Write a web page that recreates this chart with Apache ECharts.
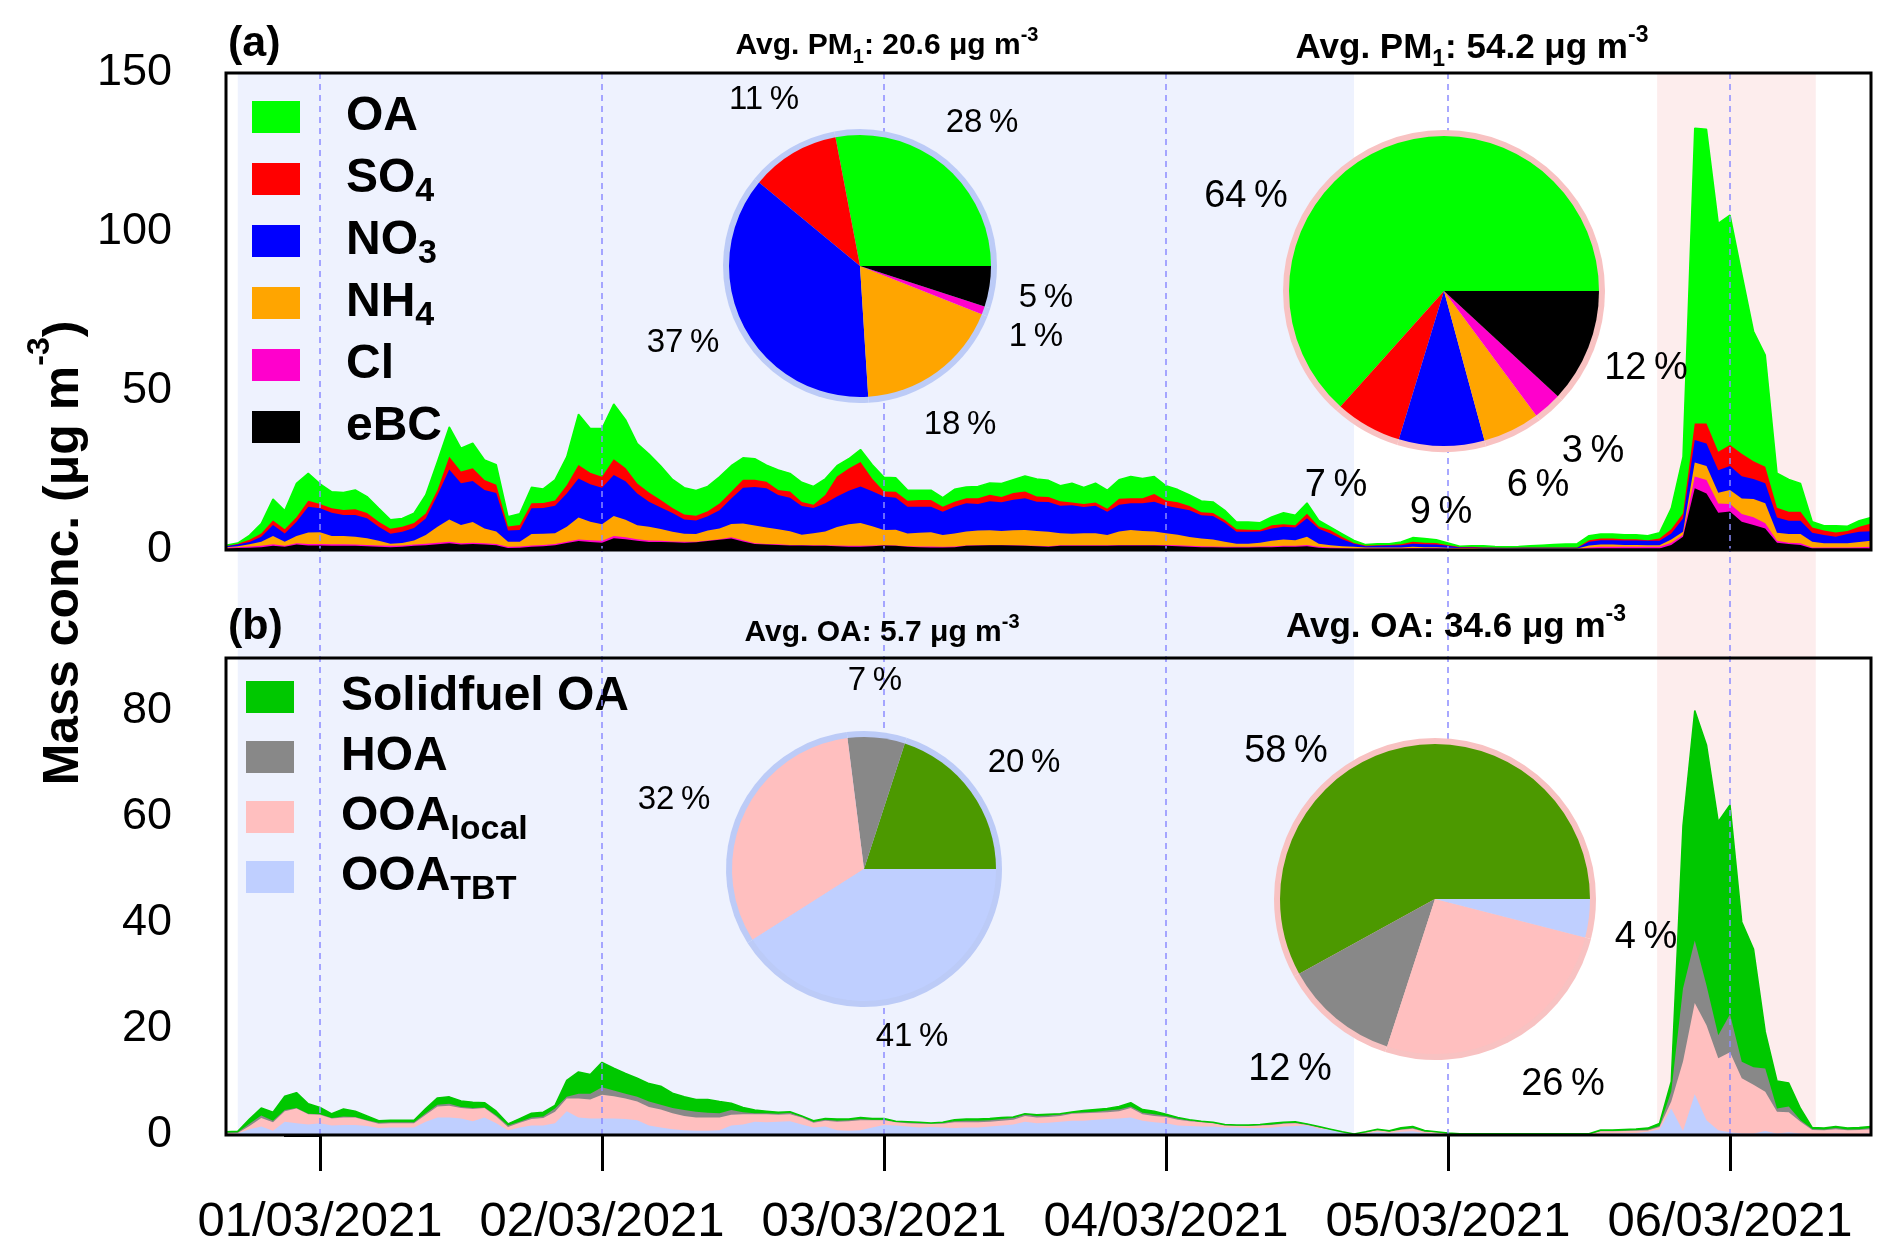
<!DOCTYPE html>
<html><head><meta charset="utf-8">
<script src="https://cdn.jsdelivr.net/npm/echarts@6/dist/echarts.min.js"></script>
<style>html,body{margin:0;padding:0;background:#fff}#c{width:1892px;height:1255px}</style>
</head><body><div id="c"></div><script>
const FF = '"Liberation Sans", Arial, sans-serif';

// time axis: hours relative to 01/03/2021 00:00, hourly from 28/02 16:00 to 06/03 12:00
const hourStart = -8, hourEnd = 132;
const hours = [];
for (let h = hourStart; h <= hourEnd; h++) hours.push(h);

const dayTicks = [0, 24, 48, 72, 96, 120];
const dayLabels = ['01/03/2021', '02/03/2021', '03/03/2021', '04/03/2021', '05/03/2021', '06/03/2021'];
const yTicksA = [0, 50, 100, 150];
const yTicksB = [0, 20, 40, 60, 80];

// shaded periods (hours): clean period and event period
const cleanPeriod = [-7, 88];
const eventPeriod = [113.8, 127.3];

// ---- panel (a) PM1 species (ug m-3) ----
const eBC = [0.4,0.6,0.7,0.9,1.3,1.0,1.7,1.4,
1.4,1.3,1.3,1.3,1.2,1.0,0.9,1.0,1.3,1.5,
1.8,2.1,1.7,1.9,1.7,1.5,0.6,0.7,1.0,1.2,
1.5,2.2,2.8,2.5,2.3,3.7,3.4,2.9,2.5,2.5,
2.4,2.3,2.4,2.8,3.2,3.6,2.7,1.9,1.7,1.6,
1.4,1.4,1.3,1.3,1.2,1.0,1.0,1.2,1.4,1.3,
1.0,0.9,0.8,0.8,0.9,1.3,1.4,1.5,1.5,1.4,
1.3,1.2,1.0,1.3,1.3,1.3,1.3,1.3,1.4,1.4,
1.4,1.4,1.3,1.2,1.0,0.9,0.9,0.8,0.8,0.8,
0.9,0.9,1.0,1.0,1.2,0.7,0.5,0.4,0.3,0.3,
0.3,0.3,0.3,0.4,0.4,0.4,0.3,0.3,0.3,0.2,
0.2,0.2,0.2,0.2,0.2,0.2,0.2,0.2,0.4,0.5,
0.5,0.5,0.5,0.5,0.5,1.6,4.2,19.4,17.8,11.7,
12.1,8.9,7.9,6.8,2.3,1.9,1.6,0.5,0.5,0.5,
0.5,0.5,0.5];
const Cl = [0.3,0.3,0.4,0.4,0.5,0.3,0.4,0.5,
0.5,0.5,0.5,0.4,0.4,0.4,0.4,0.4,0.4,0.5,
0.5,0.5,0.4,0.4,0.4,0.4,0.4,0.4,0.4,0.4,
0.4,0.4,0.5,0.6,0.6,0.7,0.6,0.5,0.5,0.4,
0.3,0.3,0.2,0.2,0.2,0.4,0.4,0.2,0.2,0.2,
0.2,0.2,0.2,0.2,0.2,0.3,0.3,0.2,0.1,0.1,
0.2,0.2,0.3,0.2,0.2,0.1,0.1,0.1,0.1,0.1,
0.1,0.1,0.2,0.2,0.2,0.2,0.2,0.2,0.2,0.2,
0.2,0.2,0.3,0.3,0.3,0.3,0.2,0.2,0.2,0.2,
0.2,0.3,0.3,0.3,0.4,0.3,0.3,0.2,0.2,0.2,
0.2,0.2,0.2,0.2,0.2,0.2,0.2,0.1,0.1,0.1,
0.1,0.1,0.1,0.1,0.1,0.1,0.1,0.1,0.4,0.5,
0.5,0.5,0.5,0.5,0.5,0.7,0.5,3.7,4.2,2.9,
2.4,2.4,2.4,1.6,0.6,0.4,0.5,0.3,0.3,0.3,
0.3,0.4,0.5];
const NH4 = [0.2,0.3,0.7,1.3,2.6,1.3,2.3,3.6,
3.7,2.6,2.6,2.5,2.1,1.5,0.7,0.8,1.3,2.7,
5.0,7.0,5.8,6.5,4.7,3.9,1.6,1.5,3.6,3.5,
3.4,4.7,6.9,5.8,5.2,6.3,5.5,4.4,4.3,3.7,
3.0,2.5,2.4,3.1,3.4,4.2,5.2,5.6,5.2,4.7,
4.3,3.2,3.8,4.3,5.8,6.8,7.2,6.1,4.8,5.0,
4.0,4.3,4.5,3.7,4.1,4.4,4.6,4.6,4.4,4.7,
4.9,4.7,4.5,3.8,3.6,3.8,3.8,3.2,4.2,4.7,
4.4,4.2,3.7,3.3,2.8,2.4,2.2,1.6,1.0,1.0,
1.2,1.7,2.0,1.8,2.6,1.0,0.7,0.6,0.5,0.3,
0.3,0.3,0.3,0.4,0.3,0.3,0.2,0.2,0.2,0.2,
0.2,0.2,0.2,0.2,0.2,0.2,0.2,0.2,0.6,0.7,
0.7,0.6,0.6,0.5,0.5,1.0,1.0,4.4,4.4,3.4,
4.4,4.9,5.7,6.3,2.5,2.7,2.9,1.8,1.3,1.3,
1.3,1.6,1.9];
const NO3 = [0.3,0.5,0.7,1.6,3.5,2.6,4.5,8.1,
7.5,7.3,6.6,6.8,6.3,4.4,3.1,3.5,3.9,5.2,
10.0,15.7,13.1,12.9,12.1,12.1,3.5,3.7,8.1,8.1,
8.6,10.5,12.3,11.8,11.5,12.9,12.1,10.0,7.9,6.8,
5.9,4.5,4.3,4.5,5.7,8.0,11.3,12.1,12.3,10.8,
10.5,9.0,7.9,8.9,9.6,10.5,11.5,11.0,10.5,10.0,
8.4,8.2,8.0,7.3,8.4,8.9,8.4,9.1,9.0,9.6,
10.0,9.2,9.4,8.6,9.0,8.2,8.6,7.3,8.4,8.4,
8.7,9.4,8.6,8.4,8.4,7.3,7.4,6.0,3.7,3.7,
3.5,3.9,4.0,4.0,5.8,4.7,3.7,2.2,1.0,0.4,
0.5,0.6,0.7,1.0,0.9,0.8,0.6,0.2,0.2,0.2,
0.2,0.2,0.2,0.2,0.2,0.2,0.2,0.2,1.2,1.4,
1.4,1.4,1.4,1.4,1.4,1.9,4.2,7.1,7.1,7.1,
7.5,7.0,6.3,6.3,4.8,4.2,4.2,2.8,2.6,2.1,
2.9,3.2,3.0];
const SO4 = [0.2,0.3,0.7,1.0,1.4,1.3,1.4,1.9,
1.4,1.4,1.6,1.8,1.6,1.6,1.6,1.6,1.6,1.6,
1.6,4.0,3.7,4.0,3.1,2.6,1.3,1.6,1.6,1.6,
1.7,2.6,4.2,3.6,3.4,4.9,4.2,3.1,2.9,2.3,
1.6,1.6,1.5,1.6,2.1,2.1,2.5,2.3,2.1,1.6,
2.0,1.3,1.0,2.6,6.3,7.0,7.7,3.9,1.6,1.9,
1.9,2.1,2.1,1.6,1.6,1.6,1.8,2.1,1.7,2.1,
2.1,1.6,1.6,1.4,0.8,1.0,1.0,1.0,1.9,1.6,
1.6,2.4,1.7,1.8,1.3,1.0,0.9,0.8,0.8,0.7,
0.5,1.0,0.8,0.7,1.4,0.7,1.0,0.7,0.2,0.2,
0.2,0.2,0.3,0.6,0.5,0.5,0.2,0.2,0.2,0.1,
0.1,0.1,0.1,0.1,0.1,0.1,0.1,0.1,0.5,0.5,
0.5,0.4,0.4,0.2,0.7,1.3,1.6,5.2,6.3,5.8,
6.6,7.1,5.6,5.2,3.1,2.8,2.8,1.7,1.4,1.3,
1.0,1.6,2.4];
const OA = [0.1,0.2,1.4,3.1,6.7,5.9,10.7,8.6,
6.3,5.2,5.5,6.1,5.2,4.2,2.8,2.6,3.1,5.8,
8.9,9.4,7.3,7.9,6.3,6.3,3.1,3.5,5.0,4.4,
6.5,8.9,16.0,13.9,15.2,17.4,15.2,12.6,12.1,10.7,
9.0,8.4,7.9,7.8,8.4,8.2,6.9,6.6,5.2,6.3,
5.7,6.2,5.8,5.1,3.4,3.1,3.9,4.4,4.5,4.4,
3.4,3.1,3.1,2.9,3.9,3.5,3.7,3.7,4.2,4.2,
4.9,5.5,5.2,4.9,6.1,5.2,6.1,5.8,6.0,6.8,
6.2,5.5,4.6,4.0,3.5,3.5,3.5,3.1,2.3,2.4,
2.3,2.6,3.6,3.1,3.4,1.9,1.0,1.0,0.8,0.3,
0.5,0.4,0.7,1.3,1.3,1.0,0.7,0.2,0.3,0.5,
0.3,0.2,0.3,0.5,0.7,0.9,1.1,1.2,1.4,1.4,
1.4,1.4,1.4,1.4,1.8,6.6,17.8,92.8,92.5,71.8,
72.3,56.6,40.9,35.1,10.9,10.2,8.9,1.8,1.5,2.1,
1.5,1.9,1.9];

// ---- panel (b) OA factors (ug m-3) ----
const OOA_TBT = [0.1,0.3,1.1,1.6,0.8,2.5,2.2,2.0,
2.2,1.8,1.9,1.9,1.7,1.3,1.4,1.4,1.4,2.5,
3.3,3.3,3.1,2.6,3.3,2.2,0.9,1.4,1.8,1.8,
2.2,4.5,3.3,3.1,3.1,3.1,3.0,2.8,1.8,1.4,
1.1,0.9,0.8,0.8,0.9,1.8,2.0,2.5,2.4,2.5,
2.6,2.0,1.4,1.6,0.9,0.8,0.9,1.4,1.9,1.8,
1.6,1.4,1.5,1.4,1.3,1.4,1.4,1.6,1.8,2.0,
2.5,2.2,2.3,2.5,2.7,2.7,2.9,3.0,3.1,3.3,
2.7,2.4,2.2,1.8,1.7,1.6,1.6,1.4,1.4,1.3,
1.3,1.4,1.6,1.7,1.8,1.2,1.0,0.5,0.15,0.3,
0.6,0.4,0.6,0.7,0.4,0.3,0.15,0.05,0.05,0.05,
0.05,0.05,0.05,0.05,0.05,0.05,0.05,0.05,0.05,0.3,
0.3,0.35,0.4,0.6,1.1,5.0,0.75,7.7,2.8,0.9,
0.5,0.3,0.3,0.75,0.3,0.5,0.3,0.2,0.2,0.3,
0.2,0.2,0.3];
const OOA_local = [0.2,0.1,0.6,1.6,1.6,2.0,2.8,1.9,
1.6,1.3,1.4,1.4,1.0,0.8,0.8,0.8,0.8,1.3,
2.1,2.2,2.0,2.3,1.8,1.3,0.6,0.9,1.2,1.4,
2.2,2.4,3.6,3.6,4.5,4.2,3.9,3.5,3.5,3.4,
3.0,2.7,2.5,2.5,2.4,2.0,1.9,1.4,1.5,1.3,
1.3,1.3,0.9,1.1,1.6,1.8,1.9,1.4,0.9,0.6,
0.6,0.7,0.6,0.7,1.1,1.0,1.0,0.9,0.9,0.9,
1.1,1.1,1.1,1.1,1.3,1.4,1.3,1.3,1.4,1.8,
1.2,1.2,1.2,1.1,0.9,0.8,0.6,0.4,0.35,0.4,
0.5,0.5,0.5,0.5,0.1,0.2,0.05,0.05,0.03,0.2,
0.3,0.2,0.4,0.5,0.2,0.2,0.1,0.1,0.1,0.1,
0.1,0.1,0.1,0.1,0.1,0.1,0.1,0.1,0.1,0.4,
0.4,0.4,0.4,0.25,0.4,1.3,13.1,17.2,17.9,13.6,
15.1,10.4,9.2,7.4,4.1,3.8,2.2,0.75,0.7,0.8,
0.7,0.75,0.8];
const HOA = [0.2,0.1,0.4,0.5,0.3,0.2,0.1,0.1,
0.1,0.1,0.2,0.1,0.1,0.2,0.2,0.2,0.2,0.3,
0.3,0.4,0.2,0.2,0.1,0.2,0.3,0.2,0.3,0.3,
0.6,0.3,0.9,1.1,1.4,1.1,0.9,0.9,1.0,0.9,
1.0,1.1,1.1,0.9,0.8,0.9,0.4,0.2,0.2,0.2,
0.3,0.2,0.2,0.2,0.2,0.2,0.2,0.1,0.1,0.1,
0.2,0.2,0.1,0.2,0.2,0.3,0.3,0.3,0.3,0.3,
0.3,0.3,0.3,0.3,0.15,0.2,0.2,0.3,0.3,0.3,
0.3,0.3,0.2,0.2,0.15,0.1,0.1,0.1,0.1,0.1,
0.1,0.1,0.1,0.1,0.1,0.1,0.02,0.02,0.01,0.02,
0.05,0.02,0.05,0.1,0.05,0.02,0.02,0.02,0.02,0.02,
0.02,0.02,0.02,0.02,0.02,0.02,0.02,0.02,0.02,0.05,
0.05,0.1,0.1,0.2,0.2,1.9,13.8,11.8,7.5,4.3,
7.2,3.1,3.3,4.4,0.6,1.1,0.3,0.2,0.15,0.2,
0.15,0.15,0.2];
const SFOA = [0.1,0.2,0.9,1.4,1.6,2.6,2.9,1.9,
1.3,0.8,1.4,1.1,0.8,0.4,0.4,0.4,0.4,0.9,
1.3,1.3,1.1,1.1,0.9,0.8,0.3,0.6,0.8,0.8,
0.6,3.1,4.1,3.6,4.7,4.2,3.8,3.5,3.4,3.5,
2.8,2.5,2.3,2.5,2.2,1.3,0.9,0.6,0.4,0.3,
0.2,0.1,0.2,0.2,0.3,0.2,0.3,0.2,0.2,0.1,
0.1,0.1,0.05,0.1,0.3,0.3,0.3,0.3,0.3,0.2,
0.1,0.2,0.2,0.1,0.2,0.3,0.4,0.4,0.6,0.7,
0.6,0.6,0.3,0.2,0.15,0.1,0.1,0.1,0.05,0.1,
0.1,0.2,0.2,0.2,0.1,0.1,0.03,0.03,0.02,0.1,
0.15,0.2,0.3,0.3,0.2,0.1,0.1,0.05,0.05,0.05,
0.05,0.05,0.05,0.05,0.05,0.05,0.05,0.05,0.05,0.2,
0.2,0.2,0.25,0.25,0.5,1.9,30.8,43.4,45.4,40.3,
39.5,26.4,22.3,6.9,5.2,4.4,2.2,0.25,0.25,0.3,
0.25,0.3,0.3];

// ---- pie compositions (%) ----
const pmNames = ['OA', 'SO4', 'NO3', 'NH4', 'Cl', 'eBC'];
const pmPieClean = [28, 11, 37, 18, 1, 5];
const pmPieEvent = [64, 7, 9, 6, 3, 12];
const oaNames = ['Solidfuel OA', 'HOA', 'OOAlocal', 'OOATBT'];
const oaPieClean = [20, 7, 32, 41];
const oaPieEvent = [58, 12, 26, 4];
const avgPM1 = [20.6, 54.2];
const avgOA = [5.7, 34.6];

// ---- styling (kept apart from data) ----
const pmColors = ['#00ff00', '#ff0000', '#0000ff', '#ffa500', '#ff00cc', '#000000'];
const oaAreaColors = ['#00c800', '#888888', '#ffbfbf', '#bfcfff'];
const oaPieColors = ['#4c9900', '#888888', '#ffbfbf', '#bfcfff'];
const ringBlue = '#bccbf7', ringPink = '#f8c2c2';
const labelPos = {
  pmClean: [[982,123],[764,100],[683,343],[960,425],[1036,337],[1046,298]],
  pmEvent: [[1246,197],[1336,486],[1441,513],[1538,486],[1593,452],[1646,369]],
  oaClean: [[1024,763],[875,681],[674,800],[912,1037]],
  oaEvent: [[1286,752],[1290,1070],[1563,1085],[1646,938]]
};

const subMap = {SO4:['SO','4'], NO3:['NO','3'], NH4:['NH','4'], OOAlocal:['OOA','local'], OOATBT:['OOA','TBT']};
function legendFmt(name) {
  const s = subMap[name];
  return s ? '{m|' + s[0] + '}{s|' + s[1] + '}' : '{m|' + name + '}';
}

// cumulative layers (bottom -> top) so each layer is an area filled down to zero,
// drawn top-most first so the lower layers paint over it
function cumulate(layers) {
  const out = [];
  let run = hours.map(() => 0);
  layers.forEach(arr => { run = run.map((v, i) => Math.round((v + arr[i]) * 100) / 100); out.push(run); });
  return out;
}

function area(name, data, color, gi, lineW, z) {
  return {
    type: 'line', name: name, xAxisIndex: gi, yAxisIndex: gi,
    data: hours.map((h, i) => [h, data[i]]),
    symbol: 'none', showSymbol: false, color: color, silent: true, z: z,
    lineStyle: {width: lineW, color: color},
    areaStyle: {color: color, opacity: 1, origin: 'start'},
    emphasis: {disabled: true}
  };
}

function stackSeries(names, layers, colors, gi) {
  const cum = cumulate(layers);
  const out = [];
  for (let k = layers.length - 1; k >= 0; k--) {
    out.push(area(names[k], cum[k], colors[k], gi, k === layers.length - 1 ? 1.5 : 0, 2));
  }
  return out;
}

function pies(values, names, colors, center, r, ring, pos, fs) {
  return [{
    type: 'pie', center: center, radius: r + 6, startAngle: 0, clockwise: false,
    silent: true, z: 9, label: {show: false}, labelLine: {show: false},
    itemStyle: {color: ring, borderWidth: 0}, emphasis: {disabled: true},
    data: values.map(v => ({value: v}))
  }, {
    type: 'pie', center: center, radius: r, startAngle: 0, clockwise: false,
    silent: true, z: 10, avoidLabelOverlap: false, emphasis: {disabled: true},
    data: values.map((v, i) => ({value: v, name: names[i], itemStyle: {color: colors[i], borderWidth: 0}})),
    label: {show: true, position: 'outside', formatter: p => p.value + '\u2009%',
      fontSize: fs, fontFamily: FF, color: '#000'},
    labelLine: {show: false},
    labelLayout: p => ({x: pos[p.dataIndex][0], y: pos[p.dataIndex][1], align: 'center', verticalAlign: 'middle'})
  }];
}

function title(x, y, pre, sub, val, fs) {
  const ss = Math.round(fs * 0.65);
  return {type: 'text', x: x, y: y, z: 30, silent: true, style: {
    text: '{b|' + pre + '}' + (sub ? '{s|' + sub + '}' : '') + '{b|: ' + val + ' \u03bcg m}{p|-3}',
    align: 'center', verticalAlign: 'middle',
    rich: {
      b: {fontSize: fs, fontWeight: 'bold', fontFamily: FF, fill: '#000', lineHeight: fs + 12},
      s: {fontSize: ss, fontWeight: 'bold', fontFamily: FF, fill: '#000', lineHeight: ss, verticalAlign: 'bottom'},
      p: {fontSize: ss, fontWeight: 'bold', fontFamily: FF, fill: '#000', lineHeight: ss - 4, verticalAlign: 'top'}
    }}};
}

const legendText = (pad) => ({
  fontFamily: FF, fontSize: 48, fontWeight: 'bold', color: '#000', lineHeight: 60, padding: [0, 0, 0, pad],
  rich: {
    m: {fontSize: 48, fontWeight: 'bold', fontFamily: FF, color: '#000', lineHeight: 60},
    s: {fontSize: 34, fontWeight: 'bold', fontFamily: FF, color: '#000', lineHeight: 24, verticalAlign: 'bottom'}
  }
});

const gridBase = {left: 226, right: 21, show: true, borderColor: '#000', borderWidth: 3,
  backgroundColor: 'transparent', containLabel: false, outerBoundsMode: 'none', z: 10};

const option = {
  animation: false,
  backgroundColor: '#fff',
  textStyle: {fontFamily: FF},
  grid: [
    Object.assign({}, gridBase, {top: 73, height: 477}),
    Object.assign({}, gridBase, {top: 658, height: 477}),
    {left: 226, right: 21, top: 73, bottom: 120, show: false, containLabel: false, outerBoundsMode: 'none'}
  ],
  xAxis: [
    {type: 'value', gridIndex: 0, min: hourStart, max: hourEnd, axisLine: {show: false},
      axisTick: {show: false}, axisLabel: {show: false}, splitLine: {show: false}},
    {type: 'value', gridIndex: 1, min: hourStart, max: hourEnd, axisLine: {show: false}, splitLine: {show: false},
      axisTick: {show: true, customValues: dayTicks, length: 36, lineStyle: {width: 3, color: '#000'}},
      axisLabel: {customValues: dayTicks, margin: 63, fontSize: 49, color: '#000', fontFamily: FF,
        formatter: v => dayLabels[dayTicks.indexOf(v)]}},
    {type: 'value', gridIndex: 2, min: hourStart, max: hourEnd, show: false}
  ],
  yAxis: [
    {type: 'value', gridIndex: 0, min: 0, max: 150, axisLine: {show: false}, splitLine: {show: false},
      axisTick: {show: true, customValues: yTicksA, length: 36, lineStyle: {width: 3, color: '#000'}},
      axisLabel: {customValues: yTicksA, margin: 54, fontSize: 45, color: '#000', fontFamily: FF}},
    {type: 'value', gridIndex: 1, min: 0, max: 90, axisLine: {show: false}, splitLine: {show: false},
      axisTick: {show: true, customValues: yTicksB, length: 36, lineStyle: {width: 3, color: '#000'}},
      axisLabel: {customValues: yTicksB, margin: 54, fontSize: 45, color: '#000', fontFamily: FF}},
    {type: 'value', gridIndex: 2, min: 0, max: 1, show: false}
  ],
  legend: [
    {data: ['OA', 'SO4', 'NO3', 'NH4', 'Cl', 'eBC'], orient: 'vertical', left: 252, top: 87, padding: 0,
      itemWidth: 48, itemHeight: 32, itemGap: 2, icon: 'rect', selectedMode: false,
      itemStyle: {borderWidth: 0}, formatter: legendFmt, textStyle: legendText(41)},
    {data: ['Solidfuel OA', 'HOA', 'OOAlocal', 'OOATBT'], orient: 'vertical', left: 246, top: 667, padding: 0,
      itemWidth: 48, itemHeight: 32, itemGap: 0, icon: 'rect', selectedMode: false,
      itemStyle: {borderWidth: 0}, formatter: legendFmt, textStyle: legendText(42)}
  ],
  graphic: [
    {type: 'text', x: 228, y: 44, z: 30, silent: true, style: {text: '(a)', fontSize: 43, fontWeight: 'bold', fontFamily: FF, fill: '#000', verticalAlign: 'middle'}},
    {type: 'text', x: 228, y: 627, z: 30, silent: true, style: {text: '(b)', fontSize: 43, fontWeight: 'bold', fontFamily: FF, fill: '#000', verticalAlign: 'middle'}},
    title(887, 46, 'Avg. PM', '1', avgPM1[0], 30),
    title(1472, 48, 'Avg. PM', '1', avgPM1[1], 35),
    title(882, 633, 'Avg. OA', '', avgOA[0], 30),
    title(1456, 627, 'Avg. OA', '', avgOA[1], 35),
    {type: 'text', x: 64, y: 553, rotation: Math.PI / 2, z: 30, silent: true, style: {
      text: '{b|Mass conc. (\u03bcg m}{p|-3}{b|)}', align: 'center', verticalAlign: 'middle',
      rich: {
        b: {fontSize: 50, fontWeight: 'bold', fontFamily: FF, fill: '#000', lineHeight: 80},
        p: {fontSize: 32, fontWeight: 'bold', fontFamily: FF, fill: '#000', lineHeight: 16, verticalAlign: 'top'}
      }}}
  ],
  series: [
    {type: 'line', xAxisIndex: 2, yAxisIndex: 2, data: [], silent: true, z: 0,
      markArea: {silent: true, label: {show: false}, data: [
        [{xAxis: cleanPeriod[0], itemStyle: {color: '#eef2fe'}}, {xAxis: cleanPeriod[1]}],
        [{xAxis: eventPeriod[0], itemStyle: {color: '#fdeded'}}, {xAxis: eventPeriod[1]}]
      ]}},
    ...stackSeries(['eBC', 'Cl', 'NH4', 'NO3', 'SO4', 'OA'], [eBC, Cl, NH4, NO3, SO4, OA],
      [pmColors[5], pmColors[4], pmColors[3], pmColors[2], pmColors[1], pmColors[0]], 0),
    ...stackSeries(['OOATBT', 'OOAlocal', 'HOA', 'Solidfuel OA'], [OOA_TBT, OOA_local, HOA, SFOA],
      [oaAreaColors[3], oaAreaColors[2], oaAreaColors[1], oaAreaColors[0]], 1),
    ...pies(pmPieClean, pmNames, pmColors, [860, 266], 131, ringBlue, labelPos.pmClean, 33),
    ...pies(pmPieEvent, pmNames, pmColors, [1444, 291], 155, ringPink, labelPos.pmEvent, 38),
    ...pies(oaPieClean, oaNames, oaPieColors, [864, 869], 132, ringBlue, labelPos.oaClean, 33),
    ...pies(oaPieEvent, oaNames, oaPieColors, [1435, 899], 155, ringPink, labelPos.oaEvent, 38),
    {type: 'line', xAxisIndex: 2, yAxisIndex: 2, data: [], silent: true, z: 20,
      markLine: {silent: true, symbol: ['none', 'none'], label: {show: false},
        lineStyle: {color: '#8c8cff', type: [6, 5], width: 1.5},
        data: dayTicks.map(h => ({xAxis: h}))}}
  ]
};

const chart = echarts.init(document.getElementById('c'), null, {renderer: 'canvas'});
chart.setOption(option);
</script></body></html>
